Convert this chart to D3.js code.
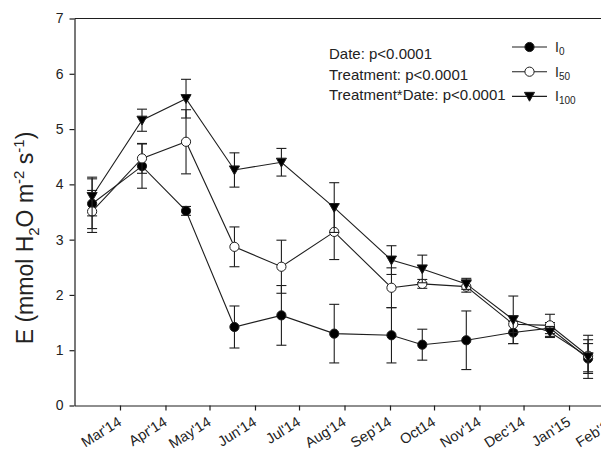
<!DOCTYPE html>
<html>
<head>
<meta charset="utf-8">
<script src="https://cdn.jsdelivr.net/npm/d3@7"></script>
<style>
  body { margin: 0; background: #fff; }
  svg { font-family: "Liberation Sans", Arial, sans-serif; }
</style>
</head>
<body>
<div id="chart"></div>
<script>
// sampling dates (one per campaign)
var dates = ["2014-02-10", "2014-03-16", "2014-04-15", "2014-05-18", "2014-06-19", "2014-07-25",
             "2014-09-02", "2014-09-23", "2014-10-23", "2014-11-24", "2014-12-19", "2015-01-14"];

var i0Mean   = [3.65, 4.33, 3.52, 1.42, 1.63, 1.30, 1.27, 1.10, 1.18, 1.32, 1.40, 0.85];
var i0Err    = [0.45, 0.40, 0.08, 0.38, 0.54, 0.53, 0.50, 0.28, 0.53, 0.20, 0.10, 0.27];
var i50Mean  = [3.51, 4.47, 4.77, 2.87, 2.51, 3.14, 2.13, 2.20, 2.15, 1.47, 1.45, 0.90];
var i50Err   = [0.38, 0.27, 0.58, 0.36, 0.48, 0.50, 0.36, 0.08, 0.10, 0.15, 0.20, 0.29];
var i100Mean = [3.78, 5.16, 5.55, 4.26, 4.40, 3.58, 2.63, 2.47, 2.20, 1.55, 1.33, 0.88];
var i100Err  = [0.35, 0.20, 0.35, 0.31, 0.25, 0.45, 0.26, 0.25, 0.10, 0.43, 0.10, 0.39];

var tickDates  = ["2014-03-01", "2014-04-01", "2014-05-01", "2014-06-01", "2014-07-01", "2014-08-01",
                  "2014-09-01", "2014-10-01", "2014-11-01", "2014-12-01", "2015-01-01", "2015-02-01"];
var tickLabels = ["Mar'14", "Apr'14", "May'14", "Jun'14", "Jul'14", "Aug'14",
                  "Sep'14", "Oct14", "Nov'14", "Dec'14", "Jan'15", "Feb'15"];
var yTicks = [0, 1, 2, 3, 4, 5, 6, 7];

var statLines = ["Date: p<0.0001", "Treatment: p<0.0001", "Treatment*Date: p<0.0001"];

var parse = d3.timeParse("%Y-%m-%d");

var series = [
    {name: "0",   mean: i0Mean,   err: i0Err,   symbol: "circle", fill: "#000"},
    {name: "50",  mean: i50Mean,  err: i50Err,  symbol: "circle", fill: "#fff"},
    {name: "100", mean: i100Mean, err: i100Err, symbol: "tri",    fill: "#000"}
];

var width = 601, height = 450;
var plotLeft = 74.5, plotTop = 18.5, plotBottom = 405.5;

var svg = d3.select("#chart").append("svg")
    .attr("width", width)
    .attr("height", height);

var x = d3.scaleTime()
    .domain([parse("2014-01-29"), parse("2015-03-01")])
    .range([plotLeft, 655.6]);
var y = d3.scaleLinear()
    .domain([0, 7])
    .range([plotBottom, plotTop]);

var ink = "#1e1e1e";

// frame top
svg.append("line")
    .attr("x1", plotLeft).attr("x2", width)
    .attr("y1", plotTop).attr("y2", plotTop)
    .attr("stroke", ink).attr("stroke-width", 1.2);

// y axis
var gy = svg.append("g")
    .attr("transform", "translate(" + plotLeft + ",0)")
    .call(d3.axisLeft(y).tickValues(yTicks).tickFormat(d3.format("d"))
        .tickSize(5).tickPadding(6).tickSizeOuter(0));
gy.select(".domain").attr("stroke", ink).attr("stroke-width", 1.2);
gy.selectAll(".tick line").attr("stroke", ink).attr("stroke-width", 1.2);
gy.selectAll(".tick text").attr("font-size", 14).attr("fill", "#222");

// x axis
var gx = svg.append("g")
    .attr("transform", "translate(0," + plotBottom + ")")
    .call(d3.axisBottom(x)
        .tickValues(tickDates.map(parse))
        .tickFormat(function (d, i) { return tickLabels[i]; })
        .tickSize(5).tickSizeOuter(0));
gx.select(".domain").attr("stroke", ink).attr("stroke-width", 1.2);
gx.selectAll(".tick line").attr("stroke", ink).attr("stroke-width", 1.2);
gx.selectAll(".tick text")
    .attr("font-size", 14.5)
    .attr("fill", "#222")
    .attr("x", 0).attr("y", 0).attr("dy", 0)
    .attr("text-anchor", "end")
    .attr("transform", "translate(2,19) rotate(-32)");

// y label
var ylab = svg.append("text")
    .attr("transform", "translate(33,238) rotate(-90)")
    .attr("text-anchor", "middle")
    .attr("font-size", 23)
    .attr("fill", "#222");
ylab.append("tspan").text("E (mmol H");
ylab.append("tspan").attr("font-size", 15).attr("dy", 6).text("2");
ylab.append("tspan").attr("dy", -6).text("O m");
ylab.append("tspan").attr("font-size", 15).attr("dy", -9).text("-2");
ylab.append("tspan").attr("dy", 9).text(" s");
ylab.append("tspan").attr("font-size", 15).attr("dy", -9).text("-1");
ylab.append("tspan").attr("dy", 9).text(")");

function drawSymbol(g, s, cx, cy, r) {
    if (s.symbol === "circle") {
        g.append("circle")
            .attr("cx", cx).attr("cy", cy).attr("r", r)
            .attr("fill", s.fill).attr("stroke", ink).attr("stroke-width", 1);
    } else {
        var h = r * 1.1;
        g.append("path")
            .attr("d", "M" + (cx - h) + "," + (cy - h * 0.8) + "L" + (cx + h) + "," + (cy - h * 0.8) +
                       "L" + cx + "," + (cy + h * 0.95) + "Z")
            .attr("fill", s.fill).attr("stroke", ink).attr("stroke-width", 1);
    }
}

var line = d3.line()
    .x(function (d) { return x(d.date); })
    .y(function (d) { return y(d.v); });

series.forEach(function (s) {
    var pts = dates.map(function (d, i) {
        return {date: parse(d), v: s.mean[i], e: s.err[i]};
    });
    var g = svg.append("g");

    // error bars
    pts.forEach(function (p) {
        var px = x(p.date), y1 = y(p.v + p.e), y2 = y(p.v - p.e);
        g.append("line").attr("x1", px).attr("x2", px).attr("y1", y1).attr("y2", y2)
            .attr("stroke", ink).attr("stroke-width", 1.1);
        [y1, y2].forEach(function (yy) {
            g.append("line").attr("x1", px - 5).attr("x2", px + 5).attr("y1", yy).attr("y2", yy)
                .attr("stroke", ink).attr("stroke-width", 1.1);
        });
    });

    g.append("path")
        .datum(pts)
        .attr("d", line)
        .attr("fill", "none")
        .attr("stroke", ink)
        .attr("stroke-width", 1.1);

    pts.forEach(function (p) {
        drawSymbol(g, s, x(p.date), y(p.v), 4.6);
    });
});

// stats text
svg.append("g")
    .selectAll("text")
    .data(statLines)
    .enter().append("text")
    .attr("x", 329)
    .attr("y", function (d, i) { return 59 + i * 20.7; })
    .attr("font-size", 15)
    .attr("fill", "#222")
    .text(function (d) { return d; });

// legend
var legend = svg.append("g");
series.forEach(function (s, i) {
    var ly = 47 + i * 24.7;
    legend.append("line")
        .attr("x1", 512).attr("x2", 547).attr("y1", ly).attr("y2", ly)
        .attr("stroke", ink).attr("stroke-width", 1.1);
    drawSymbol(legend, s, 529.5, ly, 4.6);
    var t = legend.append("text")
        .attr("x", 555)
        .attr("y", ly + 5)
        .attr("font-size", 14)
        .attr("fill", "#222");
    t.append("tspan").text("I");
    t.append("tspan").attr("font-size", 10).attr("dy", 3).text(s.name);
});
</script>
</body>
</html>
